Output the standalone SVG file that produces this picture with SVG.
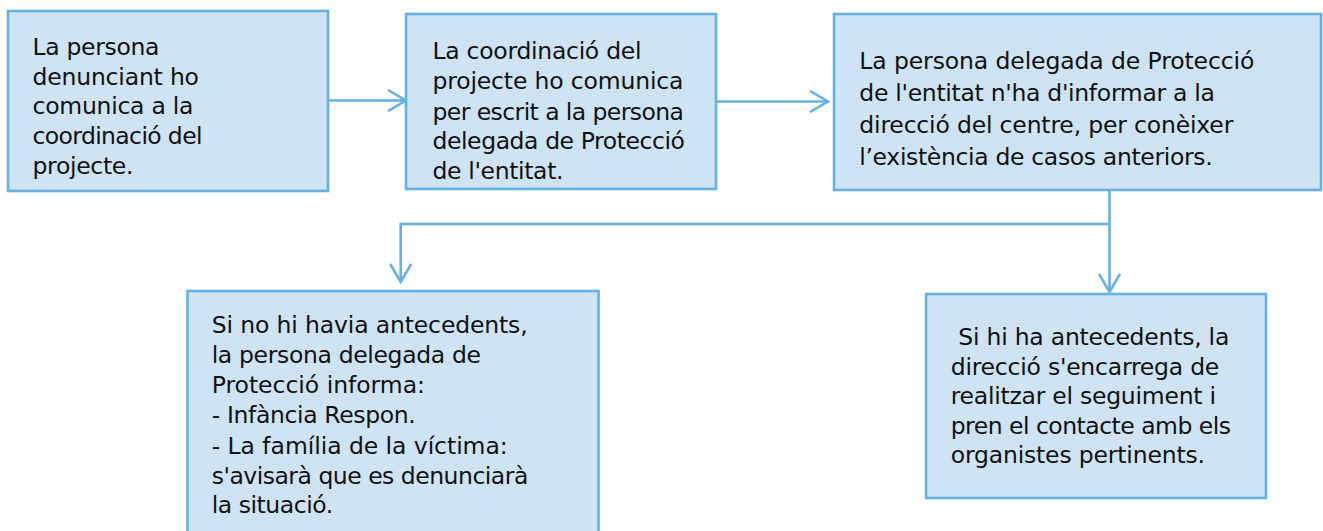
<svg xmlns="http://www.w3.org/2000/svg" width="1323" height="531" viewBox="0 0 1323 531">
<defs>
<style>
.box{fill:#CEE4F4;stroke:#63B2E6;stroke-width:2.6}
.t{font-family:"DejaVu Sans","Liberation Sans",sans-serif;font-size:23.5px;fill:#111111}
.con{fill:none;stroke:#63B2E6;stroke-width:2.6}
</style>
<marker id="arr" viewBox="0 0 21 23" refX="19.5" refY="11.5" markerWidth="21" markerHeight="23" markerUnits="userSpaceOnUse" orient="auto">
<path d="M1.5,1 L19.5,11.5 L1.5,22" fill="none" stroke="#63B2E6" stroke-width="2.6"/>
</marker>
</defs>
<rect width="1323" height="531" fill="#FFFFFF"/>
<g id="connectors">
<path class="con" d="M328,100.5 L406,100.5" marker-end="url(#arr)"/>
<path class="con" d="M716,101.5 L828,101.5" marker-end="url(#arr)"/>
<path class="con" d="M1109.5,190 L1109.5,292" marker-end="url(#arr)"/>
<path class="con" d="M1108,224 L400.7,224 L400.7,282" marker-end="url(#arr)"/>
</g>
<g id="node1">
<rect class="box" x="8" y="11" width="320" height="180"/>
<text class="t" lengthAdjust="spacingAndGlyphs"><tspan x="32.5" y="55" textLength="127">La persona</tspan><tspan x="32.5" y="84.7" textLength="166.5">denunciant ho</tspan><tspan x="32.5" y="114.4" textLength="161">comunica a la</tspan><tspan x="32.5" y="144" textLength="170">coordinació del</tspan><tspan x="32.5" y="173.7" textLength="101">projecte.</tspan></text>
</g>
<g id="node2">
<rect class="box" x="406" y="14" width="310" height="175"/>
<text class="t"><tspan x="432.5" y="59.3" textLength="209">La coordinació del</tspan><tspan x="432.5" y="89.3" textLength="251">projecte ho comunica</tspan><tspan x="432.5" y="120" textLength="251.5">per escrit a la persona</tspan><tspan x="432.5" y="149.3" textLength="252.5">delegada de Protecció</tspan><tspan x="432.5" y="178.7" textLength="131">de l'entitat.</tspan></text>
</g>
<g id="node3">
<rect class="box" x="834" y="14" width="487" height="176"/>
<text class="t"><tspan x="859.3" y="69" textLength="395">La persona delegada de Protecció</tspan><tspan x="859.3" y="101" textLength="355.7">de l'entitat n'ha d'informar a la</tspan><tspan x="859.3" y="133.3" textLength="374">direcció del centre, per conèixer</tspan><tspan x="859.3" y="165" textLength="353.4">l’existència de casos anteriors.</tspan></text>
</g>
<g id="node4">
<rect class="box" x="187.5" y="291" width="411" height="270"/>
<text class="t"><tspan x="211.7" y="333.3" textLength="316">Si no hi havia antecedents,</tspan><tspan x="211.7" y="363.3" textLength="269.3">la persona delegada de</tspan><tspan x="211.7" y="392.7" textLength="213.3">Protecció informa:</tspan><tspan x="211.7" y="423.3" textLength="204">- Infància Respon.</tspan><tspan x="211.7" y="454.3" textLength="296">- La família de la víctima:</tspan><tspan x="211.7" y="484" textLength="316.6">s'avisarà que es denunciarà</tspan><tspan x="211.7" y="513.3" textLength="121.6">la situació.</tspan></text>
</g>
<g id="node5">
<rect class="box" x="926" y="294" width="340" height="204"/>
<text class="t"><tspan x="958.3" y="345" textLength="271">Si hi ha antecedents, la</tspan><tspan x="950.7" y="375" textLength="268.6">direcció s'encarrega de</tspan><tspan x="950.7" y="404.3" textLength="265.3">realitzar el seguiment i</tspan><tspan x="950.7" y="434" textLength="280.3">pren el contacte amb els</tspan><tspan x="950.7" y="463.3" textLength="254.3">organistes pertinents.</tspan></text>
</g>
</svg>
